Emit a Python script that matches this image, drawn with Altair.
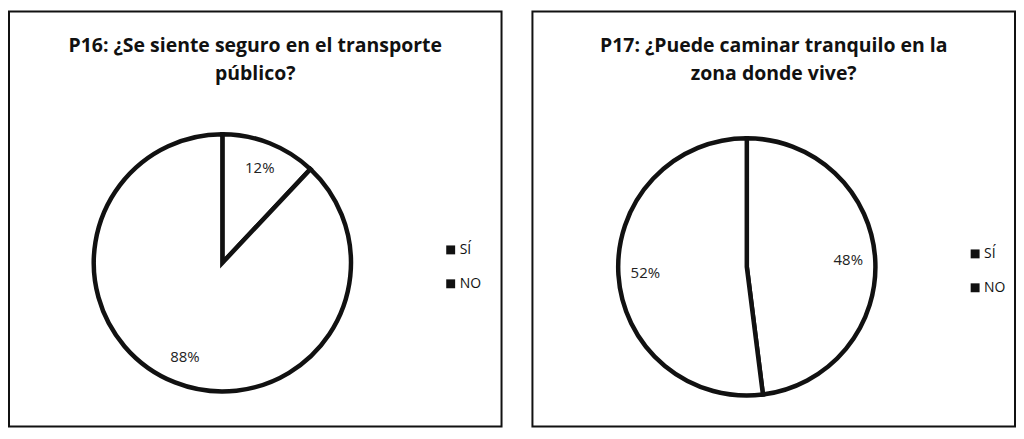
import altair as alt
import pandas as pd

categories = ["SÍ", "NO"]
p16_values = [12, 88]
p17_values = [48, 52]
p16_title = ["P16: ¿Se siente seguro en el transporte", "público?"]
p17_title = ["P17: ¿Puede caminar tranquilo en la", "zona donde vive?"]


def make_df(vals):
    return pd.DataFrame({
        "cat": categories,
        "val": vals,
        "idx": list(range(len(categories))),
        "label": [f"{v}%" for v in vals],
    })


def panel(vals, title, w, cx, cy, lx, ly):
    df = make_df(vals)
    base = alt.Chart(df).encode(
        theta=alt.Theta("val:Q", stack=True),
        order=alt.Order("idx:Q"),
    )
    # tiny hidden squares that only carry the legend
    legend_layer = alt.Chart(df).mark_square(size=1, opacity=1).encode(
        x=alt.value(cx),
        y=alt.value(cy),
        color=alt.Color(
            "cat:N",
            sort=categories,
            scale=alt.Scale(domain=categories, range=["#111111", "#111111"]),
            legend=alt.Legend(
                title=None,
                orient="none",
                legendX=lx,
                legendY=ly,
                symbolType="square",
                symbolSize=80,
                symbolStrokeWidth=0,
                labelFont="Open Sans",
                labelFontSize=14,
                labelColor="#111111",
                rowPadding=20,
                labelOffset=2,
            ),
        ),
    )
    arc = base.mark_arc(radius=129, fill="white", stroke="#111111", strokeWidth=4.5).encode(
        x=alt.value(cx),
        y=alt.value(cy),
        detail="cat:N",
    )
    text = base.mark_text(
        radius=102, font="Open Sans", fontSize=15, color="#222222"
    ).encode(
        x=alt.value(cx),
        y=alt.value(cy),
        text="label:N",
        detail="cat:N",
    )
    return alt.layer(legend_layer, arc, text).properties(
        width=w,
        height=416,
        title=alt.TitleParams(
            text=title,
            font="Open Sans",
            fontSize=19.5,
            fontWeight="bold",
            color="#111111",
            anchor="middle",
            frame="group",
            offset=-73,
            lineHeight=28,
        ),
    )


left = panel(p16_values, p16_title, 494, 214, 252, 436, 232)
right = panel(p17_values, p17_title, 484, 215, 256, 437, 236)

chart = (
    alt.hconcat(left, right, spacing=29)
    .resolve_scale(color="independent", theta="independent")
    .resolve_legend(color="independent")
    .configure_view(stroke="#111111", strokeWidth=2)
    .properties(padding={"left": 0, "top": 2, "right": 0, "bottom": 0}, background="white")
)

chart.save("out.html", embed_options={"renderer": "svg", "actions": False})
